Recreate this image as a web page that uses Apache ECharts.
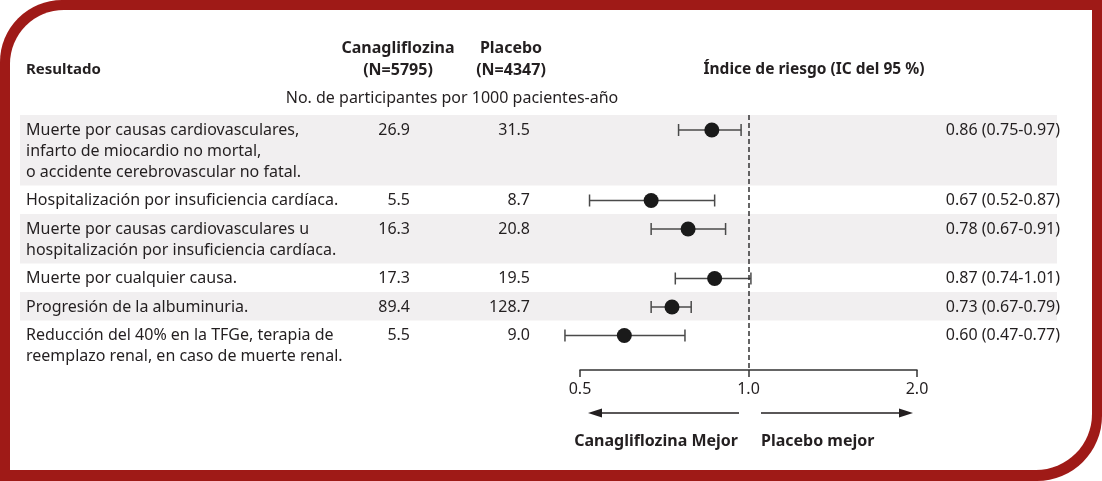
<!DOCTYPE html>
<html>
<head>
<meta charset="utf-8">
<script src="https://cdn.jsdelivr.net/npm/echarts@6/dist/echarts.min.js"></script>
<style>
html, body { margin: 0; padding: 0; background: #fff; }
#chart { width: 1102px; height: 481px; }
</style>
</head>
<body>
<div id="chart"></div>
<script>
// ---- data ----
var outcomes = [
	'Muerte por causas cardiovasculares,\ninfarto de miocardio no mortal,\no accidente cerebrovascular no fatal.',
	'Hospitalización por insuficiencia cardíaca.',
	'Muerte por causas cardiovasculares u\nhospitalización por insuficiencia cardíaca.',
	'Muerte por cualquier causa.',
	'Progresión de la albuminuria.',
	'Reducción del 40% en la TFGe, terapia de\nreemplazo renal, en caso de muerte renal.'
];
var canaRates = [26.9, 5.5, 16.3, 17.3, 89.4, 5.5];
var placeboRates = [31.5, 8.7, 20.8, 19.5, 128.7, 9.0];
var hazardRatios = [0.86, 0.67, 0.78, 0.87, 0.73, 0.60];
var ciLower = [0.75, 0.52, 0.67, 0.74, 0.67, 0.47];
var ciUpper = [0.97, 0.87, 0.91, 1.01, 0.79, 0.77];
var xTicks = [0.5, 1, 2];
var xTickLabels = ['0.5', '1.0', '2.0'];

// ---- layout ----
var FONT = '"Noto Sans", sans-serif';
var TXT = '#231f20';
var RED = '#9f1a17';
var FS = 16;
var LINE_H = 21, ROW_PAD = 7.5, TABLE_TOP = 115;

var rowTops = [], rowHeights = [];
var acc = 0;
outcomes.forEach(function(s){
	var h = s.split('\n').length * LINE_H + ROW_PAD;
	rowTops.push(acc);
	rowHeights.push(h);
	acc += h;
});
var tableH = acc;
var markY = rowTops.map(function(t){ return t + 15; });

function fmtHR(i){
	return hazardRatios[i].toFixed(2) + ' (' + ciLower[i].toFixed(2) + '-' + ciUpper[i].toFixed(2) + ')';
}

function txt(text, x, y, align, bold, extra){
	var st = {
		text: text, x: x, y: y, fill: TXT,
		font: (bold ? 'bold ' : '') + FS + 'px ' + FONT,
		align: align, textAlign: align,
		verticalAlign: 'middle', textVerticalAlign: 'middle'
	};
	if (extra) { for (var k in extra) st[k] = extra[k]; }
	return { type: 'text', style: st };
}

var chart = echarts.init(document.getElementById('chart'));

var option = {
	animation: false,
	grid: { left: 580, right: 185, top: TABLE_TOP, height: tableH },
	xAxis: {
		type: 'log',
		logBase: 2,
		min: 0.5,
		max: 2,
		position: 'bottom',
		splitLine: { show: false },
		axisLine: { show: true, onZero: false, lineStyle: { color: '#333', width: 1.5 } },
		axisTick: { show: true, length: 7, lineStyle: { color: '#333', width: 1.5 } },
		minorTick: { show: false },
		axisLabel: {
			color: TXT, fontFamily: FONT, fontSize: FS, margin: 11,
			formatter: function(v){
				for (var i = 0; i < xTicks.length; i++) {
					if (Math.abs(xTicks[i] - v) < 1e-6) return xTickLabels[i];
				}
				return '';
			}
		}
	},
	yAxis: {
		type: 'value', inverse: true, min: 0, max: tableH, show: false
	},
	graphic: [
		{ type: 'rect', z: -10, shape: { x: 0, y: 0, width: 1102, height: 481, r: [62, 0, 65, 0] }, style: { fill: RED } },
		{ type: 'rect', z: -9, shape: { x: 10, y: 10, width: 1082, height: 460, r: [54, 0, 56, 0] }, style: { fill: '#fff' } },
		txt('Resultado', 26, 70, 'left', true, { font: 'bold 15px ' + FONT }),
		txt('Canagliflozina', 398, 48, 'center', true),
		txt('(N=5795)', 398, 70, 'center', true),
		txt('Placebo', 511, 48, 'center', true),
		txt('(N=4347)', 511, 70, 'center', true),
		txt('Índice de riesgo (IC del 95 %)', 814, 70, 'center', true, { font: 'bold 15.5px ' + FONT }),
		txt('No. de participantes por 1000 pacientes-año', 452, 98, 'center', false),
		txt('Canagliflozina Mejor', 738, 441, 'right', true),
		txt('Placebo mejor', 761, 441, 'left', true)
	],
	series: [
		{
			// table rows: band, outcome label, rates, HR text
			type: 'custom',
			z: 1,
			silent: true,
			data: outcomes.map(function(s, i){ return [1, rowTops[i]]; }),
			renderItem: function(params, api){
				var i = params.dataIndex;
				var top = api.coord([1, rowTops[i]])[1];
				var bot = api.coord([1, rowTops[i] + rowHeights[i]])[1];
				var lineY = api.coord([1, markY[i]])[1];
				var children = [];
				if (i % 2 === 0) {
					children.push({ type: 'rect', shape: { x: 20, y: top, width: 1037, height: bot - top }, style: { fill: '#f1eff0' } });
				}
				children.push(txt(outcomes[i], 26, lineY - LINE_H / 2, 'left', false,
					{ verticalAlign: 'top', textVerticalAlign: 'top', lineHeight: LINE_H }));
				children.push(txt(canaRates[i].toFixed(1), 410, lineY, 'right', false));
				children.push(txt(placeboRates[i].toFixed(1), 530, lineY, 'right', false));
				children.push(txt(fmtHR(i), 1060, lineY, 'right', false));
				return { type: 'group', children: children };
			}
		},
		{
			// confidence intervals
			type: 'custom',
			z: 3,
			silent: true,
			encode: { x: [0, 1], y: 2 },
			data: hazardRatios.map(function(h, i){ return [ciLower[i], ciUpper[i], markY[i]]; }),
			renderItem: function(params, api){
				var lo = api.coord([api.value(0), api.value(2)]);
				var hi = api.coord([api.value(1), api.value(2)]);
				var st = { stroke: '#4a4a4a', lineWidth: 1.5 };
				return {
					type: 'group',
					children: [
						{ type: 'line', shape: { x1: lo[0], y1: lo[1], x2: hi[0], y2: hi[1] }, style: st },
						{ type: 'line', shape: { x1: lo[0], y1: lo[1] - 6, x2: lo[0], y2: lo[1] + 6 }, style: st },
						{ type: 'line', shape: { x1: hi[0], y1: hi[1] - 6, x2: hi[0], y2: hi[1] + 6 }, style: st }
					]
				};
			},
			markLine: {
				silent: true,
				animation: false,
				label: { show: false },
				lineStyle: { color: TXT, width: 1.5, type: 'solid' },
				data: [
					[{ x: 739, y: 413, symbol: 'none' }, { x: 595, y: 413, symbol: 'triangle', symbolSize: [9, 14] }],
					[{ x: 761, y: 413, symbol: 'none' }, { x: 906, y: 413, symbol: 'triangle', symbolSize: [9, 14] }]
				]
			}
		},
		{
			type: 'scatter',
			z: 4,
			silent: true,
			symbolSize: 15,
			itemStyle: { color: '#1a1a1a', opacity: 1 },
			data: hazardRatios.map(function(h, i){ return [h, markY[i]]; }),
			markLine: {
				silent: true,
				symbol: 'none',
				label: { show: false },
				lineStyle: { color: '#333', width: 1.5, type: [5, 3] },
				data: [{ xAxis: 1 }]
			}
		}
	]
};

chart.setOption(option);
</script>
</body>
</html>
